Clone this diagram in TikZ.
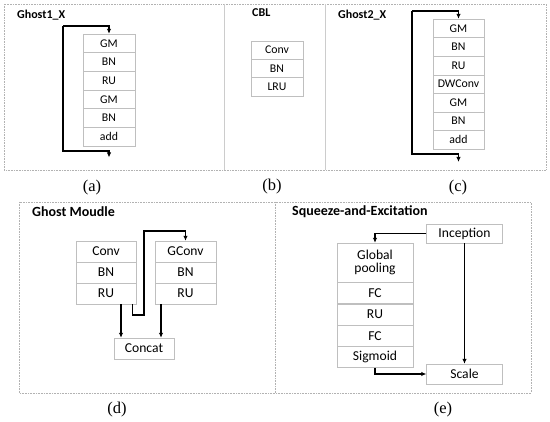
\documentclass[tikz,border=0pt]{standalone}
\usepackage{fontspec}
\setmainfont{Carlito}
\newfontfamily\lblfont{Liberation Serif}
\usetikzlibrary{arrows.meta}
\tikzset{
  cell/.style={draw=black!25, fill=white, inner sep=0pt, minimum width=#1},
  cs/.style={font=\fontsize{11.8}{13}\selectfont},
  cb/.style={font=\fontsize{13.6}{15}\selectfont},
  ttl/.style={font=\bfseries\fontsize{12}{14}\selectfont, anchor=west, inner sep=0pt},
  ttlb/.style={font=\bfseries\fontsize{14}{16}\selectfont, anchor=west, inner sep=0pt},
  lbl/.style={font=\lblfont\fontsize{16.5}{18}\selectfont, inner sep=0pt},
  arr/.style={-{Latex[length=5pt,width=4.5pt]}, line width=1.3pt},
  frm/.style={draw=black!30, densely dotted, line width=0.6pt},
  dv/.style={draw=black!20, line width=0.6pt}
}
\begin{document}
\begin{tikzpicture}[x=1pt,y=-1pt]
\useasboundingbox (0,0) rectangle (550,422);
\fill[white] (0,0) rectangle (550,422);
% frames
\draw[frm] (4,4) rectangle (546,170);
\draw[dv] (224.5,4) -- (224.5,170);
\draw[dv] (325.5,4) -- (325.5,170);
\draw[frm] (19,202) rectangle (531,393);
\draw[frm] (275,202) -- (275,393);

% (a) Ghost1_X
\node[ttl] (t1) at (17,15) {Ghost1\_X};
\foreach \i/\t [count=\k] in {0/GM,1/BN,2/RU,3/GM,4/BN,5/add}{
  \node[cell=52pt, minimum height=18.67pt, cs] (a\k) at (109,{43.33+18.67*\i}) {\t};
}
\coordinate (a0tl) at (63,26);
\coordinate (a0bl) at (63,151);
\coordinate (a0end) at (109,157.5);
\draw[arr] (a0tl) -| (a1.north);
\draw[arr] (a0tl) |- (a0end |- a0bl) -- (a0end);
\node[lbl] (la) at (92,188) {(a)};

% (b) CBL
\node[ttl] (t2) at (252,13) {CBL};
\foreach \i/\t [count=\k] in {0/Conv,1/BN,2/LRU}{
  \node[cell=52pt, minimum height=18.33pt, cs] (b\k) at (277,{50.17+18.33*\i}) {\t};
}
\node[lbl] (lb) at (272,187) {(b)};

% (c) Ghost2_X
\node[ttl] (t3) at (338,15) {Ghost2\_X};
\foreach \i/\t [count=\k] in {0/GM,1/BN,2/RU,3/DWConv,4/GM,5/BN,6/add}{
  \node[cell=51pt, minimum height=18.57pt, cs] (c\k) at (458.5,{28.29+18.57*\i}) {\t};
}
\coordinate (c0tl) at (412,11);
\coordinate (c0bl) at (412,154);
\coordinate (c0end) at (458.5,162);
\draw[arr] (c0tl) -| (c1.north);
\draw[arr] (c0tl) |- (c0end |- c0bl) -- (c0end);
\node[lbl] (lc) at (458,188) {(c)};

% (d) Ghost Moudle
\node[ttlb] (t4) at (32,212) {Ghost Moudle};
\foreach \i/\t [count=\k] in {0/Conv,1/BN,2/RU}{
  \node[cell=60pt, minimum height=21pt, cb] (dl\k) at (106,{251.5+21*\i}) {\t};
}
\foreach \i/\t [count=\k] in {0/GConv,1/BN,2/RU}{
  \node[cell=61pt, minimum height=21pt, cb] (dr\k) at (185.5,{251.5+21*\i}) {\t};
}
\node[cell=60pt, minimum height=21pt, cb] (cat) at (144,348.5) {Concat};
\draw[arr] ([xshift=15pt]dl3.south) -- ([xshift=15pt]dl3.south |- cat.north);
\draw[arr] ([xshift=-24.5pt]dr3.south) -- ([xshift=-24.5pt]dr3.south |- cat.north);
\coordinate (w1) at (132.5,315);
\coordinate (w2) at (144,231);
\draw[arr] (w1 |- dl3.south) -- (w1) -| (w2) -| (dr1.north);
\node[lbl] (ld) at (117,410) {(d)};

% (e) Squeeze-and-Excitation
\node[ttlb] (t5) at (292,212) {Squeeze-and-Excitation};
\node[cell=76pt, minimum height=39pt, cb, align=center] (gp) at (375,262.5) {Global\\[-2pt]pooling};
\node[cell=76pt, minimum height=21pt, cb, anchor=north] (fc1) at (gp.south) {FC};
\node[cell=76pt, minimum height=21pt, cb, anchor=north] (ru) at (fc1.south) {RU};
\node[cell=76pt, minimum height=21pt, cb, anchor=north] (fc2) at (ru.south) {FC};
\node[cell=76pt, minimum height=21pt, cb, anchor=north] (sig) at (fc2.south) {Sigmoid};
\node[cell=76pt, minimum height=19pt, cb] (inc) at (464.5,233.5) {Inception};
\node[cell=76pt, minimum height=20pt, cb] (sc) at (464.5,374) {Scale};
\draw[arr] (inc.west) -| (gp.north);
\draw[arr] (inc) -- (sc);
\draw[arr] (sig.south) |- (sc.west);
\node[lbl] (le) at (443,410) {(e)};
\end{tikzpicture}
\end{document}
